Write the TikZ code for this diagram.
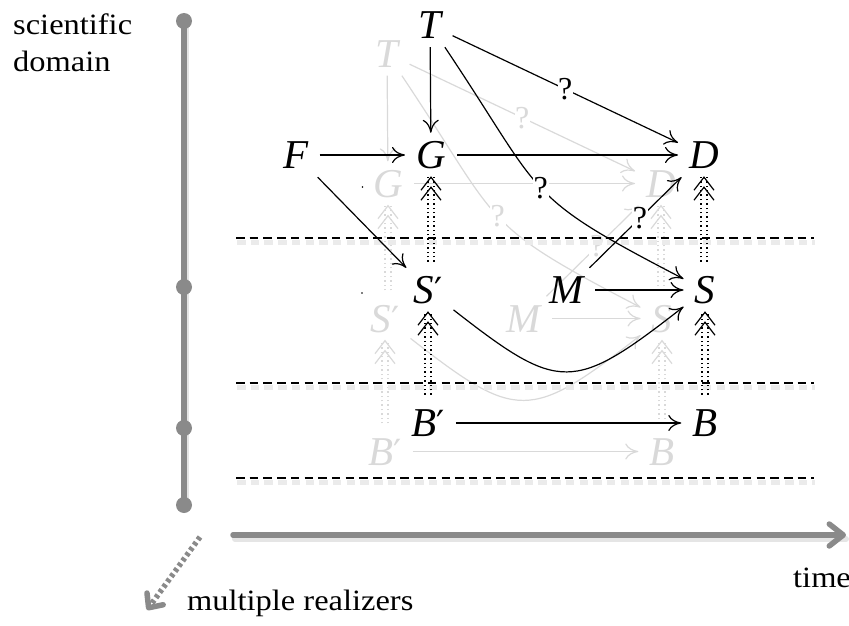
\documentclass[tikz,border=0pt]{standalone}
\usepackage{fontspec}
\setmainfont{Liberation Serif}
\newfontfamily\lblfont[FakeStretch=1.1]{Liberation Serif}
\newfontfamily\primefont{DejaVu Serif}
\usetikzlibrary{arrows.meta}
\newcommand\pr{{\primefont\upshape\fontsize{36}{36}\selectfont ′}}
\tikzset{
 v/.style={font=\fontsize{41}{41}\selectfont\itshape, text height=27pt, text depth=0pt, inner xsep=11pt, inner ysep=8.5pt},
 ar/.style={line width=1.2pt, -{Computer Modern Rightarrow[length=13pt,width=16pt]}},
 q/.style={font=\fontsize{32}{32}\selectfont, fill=white, inner sep=0.6pt},
 dots/.style={line width=1.4pt, dash pattern=on 1.4pt off 3pt},
 chev/.style={line width=1.2pt, line join=miter},
 dashln/.style={line width=1.8pt, dash pattern=on 8.5pt off 5.2pt},
 dashsh/.style={line width=5pt, dash pattern=on 8.5pt off 5.2pt, black!8},
 axis/.style={line width=5.5pt, color=black!46, line cap=round},
 axsh/.style={line width=6pt, color=black!10, line cap=round},
 lbl/.style={font=\lblfont\fontsize{29.5}{36}\selectfont, inner sep=0pt},
}
\newcommand\dbl[2]{%
 \draw[dots, shorten <=6pt, transform canvas={xshift=-3pt}] (#2.south |- #1.north) -- (#2.south);
 \draw[dots, shorten <=6pt, transform canvas={xshift=3pt}] (#2.south |- #1.north) -- (#2.south);
 \draw[chev, shift={(#2.south)}] (-10,13) -- (0,0) -- (10,13) (-10,23) -- (0,10) -- (10,23);
}
\newcommand\dlayer[3]{%
\begin{scope}[shift={#3}, color=#2]
 \node[v] (#1T) at (430,25) {T};
 \node[v] (#1G) at (431,155) {G};
 \node[v] (#1D) at (704,155) {D};
 \node[v] (#1Sp) at (428,290) {S\pr};
 \node[v] (#1M) at (567,290) {M};
 \node[v] (#1S) at (705,290) {S};
 \node[v] (#1Bp) at (428,423) {B\pr};
 \node[v] (#1B) at (705,423) {B};
 \draw[ar] (#1T) -- (#1G);
 \draw[ar] (#1T) -- node[q]{?} (#1D);
 \draw[ar] (#1T) .. controls (546,198) and (520,194) .. node[q]{?} (#1S);
 \draw[ar] (#1G) -- (#1D);
 \draw[ar] (#1M) -- node[q, pos=0.55]{?} (#1D);
 \draw[ar] (#1M) -- (#1S);
 \draw[ar] (#1Sp) .. controls (560,393) and (573,393) .. (#1S);
 \draw[ar] (#1Bp) -- (#1B);
 \dbl{#1Bp}{#1Sp}
 \dbl{#1Sp}{#1G}
 \dbl{#1B}{#1S}
 \dbl{#1S}{#1D}
\end{scope}}
\begin{document}
\begin{tikzpicture}[x=1pt,y=-1pt]
\useasboundingbox (0,0) rectangle (849,626);
% axes shadows
\draw[axsh] (186,24) -- (186,508);
\draw[axsh] (235,539) -- (846,539);
% vertical axis
\draw[axis] (184,21) -- (184,505);
\foreach \yy in {21,287,428,505} \fill[black!46] (184,\yy) circle (8);
% time axis
\draw[axis, -{Straight Barb[length=14pt,width=22pt,round]}] (233,535) -- (846,535);
% multiple realizers
\draw[axis, line cap=butt, dash pattern=on 3.5pt off 3pt, -{Straight Barb[length=11pt,width=20pt,round]}] (200,537) -- (147,610);
% labels
\node[lbl, anchor=base west] (sci) at (13,35) {scientific};
\node[lbl, anchor=base west] (dom) at (13,72) {domain};
\node[lbl, anchor=base west] (time) at (793,587) {time};
\node[lbl, anchor=base west] (mr) at (187,610) {multiple realizers};
% ghost layer
\dlayer{g}{black!15}{(-43,28.5)}
% dashed separators
\foreach \yy in {238,383,478} {
 \draw[dashsh] (237,\yy+4) -- (815,\yy+4);
 \draw[dashln] (236,\yy) -- (814,\yy);
}
% main layer
\dlayer{}{black}{(0,0)}
\node[v] (F) at (296,155) {F};
\draw[ar] (F) -- (G);
\draw[ar] (F) -- (Sp);
\fill (362.5,187) circle (0.9);
\fill (362,293) circle (0.9);
\end{tikzpicture}
\end{document}
